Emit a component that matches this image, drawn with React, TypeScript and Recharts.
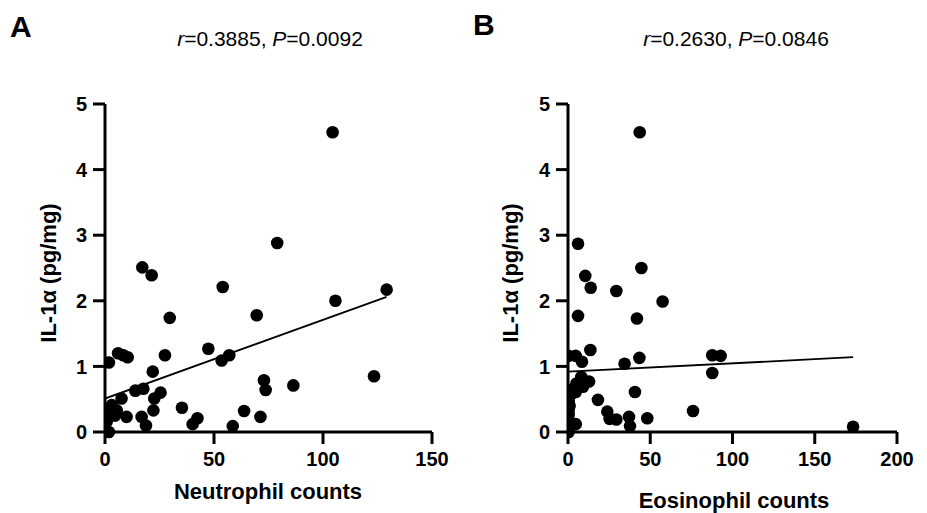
import React from 'react';
import { ScatterChart, Scatter, XAxis, YAxis } from 'recharts';

// Panel A: Neutrophil counts vs IL-1α
const neutrophilCounts = [104.4, 79.0, 17.1, 21.4, 54.0, 129.2, 105.7, 29.7, 69.6, 47.4, 6.0, 8.4, 10.4, 27.5, 1.8, 53.5, 57.0, 21.9, 123.4, 72.9, 73.7, 86.4, 13.9, 17.6, 25.5, 7.6, 22.6, 22.2, 35.3, 63.8, 71.3, 42.4, 40.2, 58.6, 16.8, 18.8, 9.9, 0, 3.1, 5.4, 0.8, 1.8, 4.6, 0.5];
const il1aA = [4.57, 2.88, 2.51, 2.39, 2.21, 2.17, 2.0, 1.74, 1.78, 1.27, 1.2, 1.17, 1.14, 1.17, 1.06, 1.09, 1.17, 0.92, 0.85, 0.79, 0.64, 0.71, 0.63, 0.66, 0.6, 0.51, 0.51, 0.33, 0.37, 0.32, 0.23, 0.21, 0.12, 0.09, 0.23, 0.1, 0.23, 0.31, 0.41, 0.33, 0.16, 0.0, 0.25, 0.22];
const fitAx = [0, 129.2];
const fitAy = [0.51, 2.06];

// Panel B: Eosinophil counts vs IL-1α
const eosinophilCounts = [43.6, 6.1, 44.6, 10.5, 13.8, 29.4, 57.5, 6.1, 41.9, 13.6, 0.4, 4.7, 8.5, 34.4, 43.4, 87.7, 92.8, 87.7, 8.1, 12.8, 9.1, 0.4, 4.7, 40.7, 18.2, 0.4, 0.4, 76.0, 23.9, 25.3, 29.4, 37.1, 37.7, 48.2, 173.3, 0.4, 4.7, 0.4, 0.4, 0.4, 5.1, 2.0, 1.0];
const il1aB = [4.57, 2.87, 2.5, 2.38, 2.2, 2.15, 1.99, 1.77, 1.73, 1.25, 1.16, 1.16, 1.07, 1.04, 1.13, 1.17, 1.16, 0.9, 0.84, 0.77, 0.69, 0.64, 0.61, 0.61, 0.49, 0.48, 0.33, 0.32, 0.31, 0.2, 0.19, 0.23, 0.09, 0.21, 0.08, 0.15, 0.12, 0.0, 0.05, 0.26, 0.74, 0.58, 0.4];
const fitBx = [0, 173.3];
const fitBy = [0.92, 1.14];

const yTicks = [0, 1, 2, 3, 4, 5];
const xTicksA = [0, 50, 100, 150];
const xTicksB = [0, 50, 100, 150, 200];

const FONT = 'Arial, "Liberation Sans", Helvetica, sans-serif';

const toPoints = (xs: number[], ys: number[]) => xs.map((x, i) => ({ x, y: ys[i] }));

const Dot = (props: any) => <circle cx={props.cx} cy={props.cy} r={6.3} fill="#000" />;
const NoDot = () => null;

const tickStyle = { fontFamily: FONT, fontSize: 20, fontWeight: 700, fill: '#000' };
const axisLine = { stroke: '#000', strokeWidth: 3 };

function Panel(props: {
  pts: { x: number; y: number }[];
  fit: { x: number; y: number }[];
  xDomain: [number, number];
  xTicks: number[];
  width: number;
  right: number;
}) {
  return (
    <ScatterChart width={props.width} height={513} margin={{ top: 104, right: props.right, bottom: 0, left: 0 }}>
      <XAxis
        type="number"
        dataKey="x"
        domain={props.xDomain}
        ticks={props.xTicks}
        interval={0}
        height={81}
        tickSize={12}
        tickMargin={8}
        axisLine={axisLine}
        tickLine={axisLine}
        tick={tickStyle}
        allowDataOverflow
      />
      <YAxis
        type="number"
        dataKey="y"
        domain={[0, 5]}
        ticks={yTicks}
        interval={0}
        width={105}
        tickSize={12}
        tickMargin={6}
        axisLine={axisLine}
        tickLine={axisLine}
        tick={tickStyle}
      />
      <Scatter data={props.pts} shape={Dot} isAnimationActive={false} />
      <Scatter data={props.fit} shape={NoDot} line={{ stroke: '#000', strokeWidth: 1.8 }} isAnimationActive={false} />
    </ScatterChart>
  );
}

const abs = (style: React.CSSProperties): React.CSSProperties => ({ position: 'absolute', fontFamily: FONT, color: '#000', whiteSpace: 'nowrap', lineHeight: 1, ...style });

export default function App() {
  return (
    <div style={{ position: 'fixed', left: 0, top: 0, width: 927, height: 513, background: '#fff', overflow: 'hidden' }}>
      <div style={{ position: 'absolute', left: 0, top: 0 }}>
        <Panel pts={toPoints(neutrophilCounts, il1aA)} fit={toPoints(fitAx, fitAy)} xDomain={[0, 150]} xTicks={xTicksA} width={460} right={28} />
      </div>
      <div style={{ position: 'absolute', left: 463, top: 0 }}>
        <Panel pts={toPoints(eosinophilCounts, il1aB)} fit={toPoints(fitBx, fitBy)} xDomain={[0, 200]} xTicks={xTicksB} width={464} right={30} />
      </div>
      <div style={abs({ left: 10, top: 12, fontSize: 30, fontWeight: 700 })}>A</div>
      <div style={abs({ left: 473, top: 10, fontSize: 30, fontWeight: 700 })}>B</div>
      <div style={abs({ left: 270, top: 28, fontSize: 21, transform: 'translateX(-50%)' })}>
        <i>r</i>=0.3885, <i>P</i>=0.0092
      </div>
      <div style={abs({ left: 736, top: 28, fontSize: 21, transform: 'translateX(-50%)' })}>
        <i>r</i>=0.2630, <i>P</i>=0.0846
      </div>
      <div style={abs({ left: 268, top: 481, fontSize: 22, fontWeight: 700, transform: 'translateX(-50%)' })}>Neutrophil counts</div>
      <div style={abs({ left: 734, top: 490, fontSize: 22, fontWeight: 700, transform: 'translateX(-50%)' })}>Eosinophil counts</div>
      <div style={abs({ left: 49, top: 273, fontSize: 22, fontWeight: 700, transform: 'translate(-50%, -50%) rotate(-90deg)' })}>IL-1α (pg/mg)</div>
      <div style={abs({ left: 511, top: 273, fontSize: 22, fontWeight: 700, transform: 'translate(-50%, -50%) rotate(-90deg)' })}>IL-1α (pg/mg)</div>
    </div>
  );
}
